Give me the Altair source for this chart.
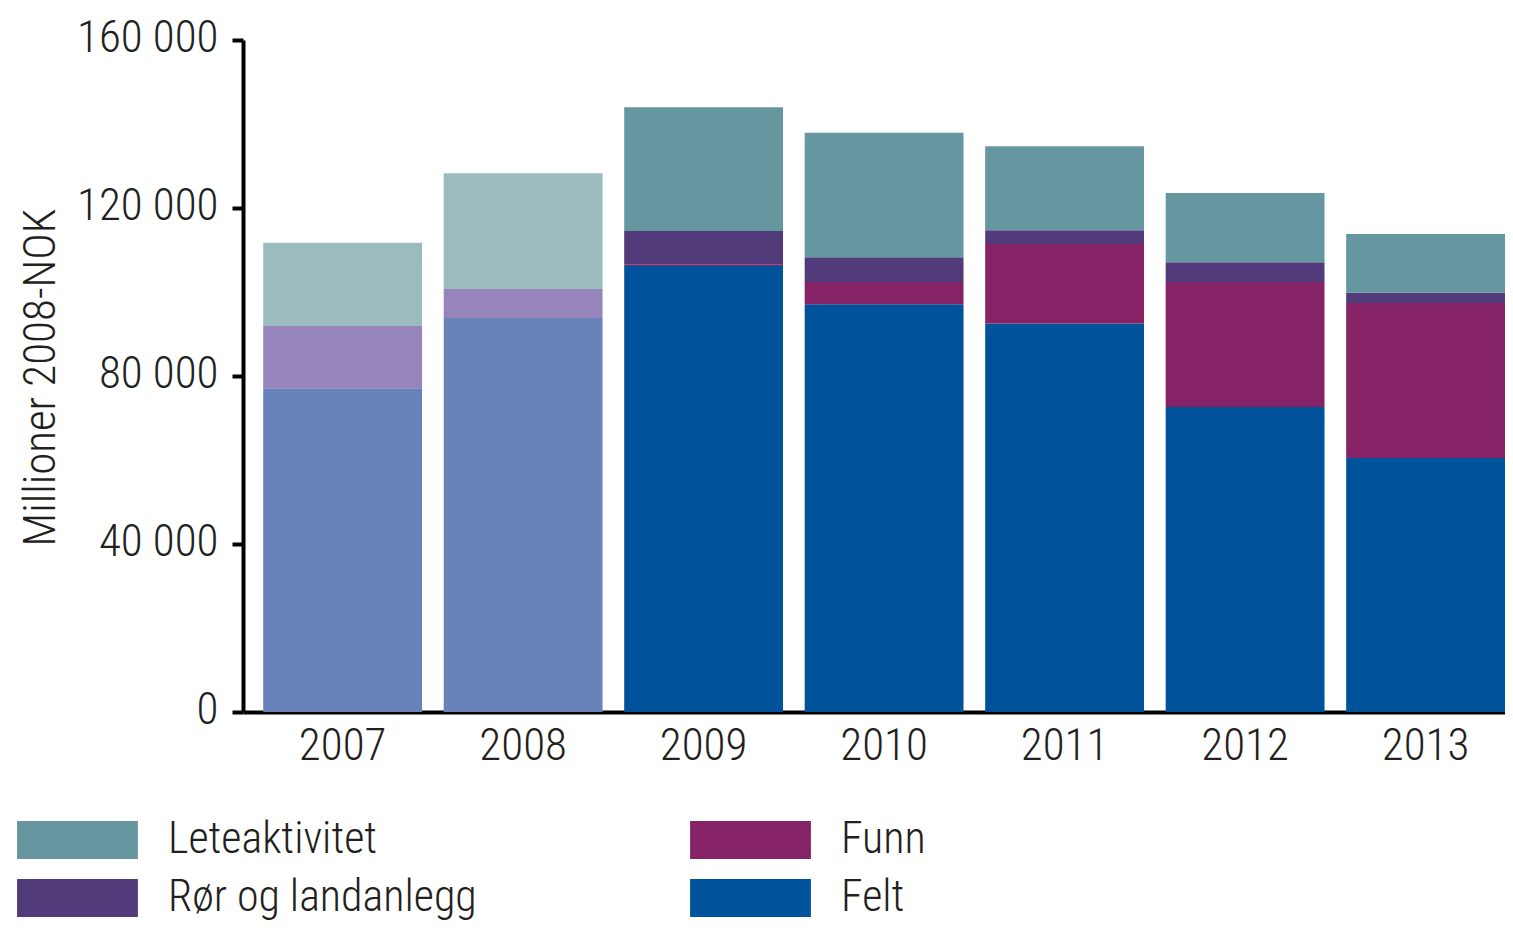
import altair as alt
import pandas as pd

FONT = "Roboto Condensed"
FW = 300
FS = 45
TXT = "#231f20"

years = ["2007", "2008", "2009", "2010", "2011", "2012", "2013"]
felt = [77100, 93800, 106200, 97100, 92500, 72600, 60500]
funn = [0, 0, 300, 5300, 18900, 29800, 36900]
ror = [14800, 6900, 8000, 5900, 3300, 4700, 2400]
lete = [19800, 27600, 29500, 29600, 20000, 16500, 14000]

series_names = ["Felt", "Funn", "Rør og landanlegg", "Leteaktivitet"]
light_years = ["2007", "2008"]

legend_keys = ["Leteaktivitet", "Rør og landanlegg", "Funn", "Felt"]
legend_colors = ["#6696a0", "#513b7a", "#862366", "#00529a"]
light_keys = ["Leteaktivitet (lys)", "Rør og landanlegg (lys)", "Funn (lys)", "Felt (lys)"]
light_colors = ["#9bbbbe", "#9585ba", "#c48aa8", "#6883ba"]

rows = []
for i, y in enumerate(years):
    for rank, (name, vals) in enumerate(zip(series_names, [felt, funn, ror, lete])):
        key = name + " (lys)" if y in light_years else name
        rows.append({"year": y, "series": name, "key": key, "value": vals[i], "rank": rank})
df = pd.DataFrame(rows)

legend = alt.Legend(
    title=None,
    orient="none",
    legendX=-187.5,
    legendY=778,
    columns=2,
    columnPadding=212,
    rowPadding=14,
    padding=0,
    symbolType="M-3.18,-1L3.18,-1L3.18,1L-3.18,1Z",
    symbolSize=1444,
    symbolStrokeWidth=0,
    symbolOpacity=1,
    labelFont=FONT,
    labelFontWeight=FW,
    labelFontSize=44,
    labelColor=TXT,
    labelOffset=68.5,
    labelLimit=2000,
    values=legend_keys,
)

chart = (
    alt.Chart(df)
    .mark_bar(strokeWidth=0)
    .encode(
        x=alt.X(
            "year:O",
            sort=years,
            scale=alt.Scale(paddingInner=0.12, paddingOuter=0.056, align=1.0),
            axis=alt.Axis(
                title=None,
                labelAngle=0,
                ticks=False,
                grid=False,
                domainWidth=4,
                domainColor="black",
                labelFont=FONT,
                labelFontWeight=FW,
                labelFontSize=FS,
                labelColor=TXT,
                labelPadding=11,
            ),
        ),
        y=alt.Y(
            "value:Q",
            stack="zero",
            scale=alt.Scale(domain=[0, 160000], nice=False),
            axis=alt.Axis(
                title="Millioner 2008-NOK",
                values=[0, 40000, 80000, 120000, 160000],
                labelExpr="replace(format(datum.value, ','), ',', ' ')",
                grid=False,
                domainWidth=4,
                domainColor="black",
                tickWidth=4,
                tickSize=11,
                tickColor="black",
                labelFont=FONT,
                labelFontWeight=FW,
                labelFontSize=FS,
                labelColor=TXT,
                labelPadding=14,
                labelOffset=-3,
                titleFont=FONT,
                titleFontSize=FS,
                titleFontWeight=FW,
                titleColor=TXT,
                titleAngle=270,
                titleAlign="center",
                titleBaseline="middle",
                titleX=-203,
                titleY=337,
            ),
        ),
        color=alt.Color(
            "key:N",
            scale=alt.Scale(domain=legend_keys + light_keys, range=legend_colors + light_colors),
            legend=legend,
        ),
        order=alt.Order("rank:Q", sort="ascending"),
    )
    .properties(
        width=1262,
        height=672,
        background="white",
        autosize=alt.AutoSizeParams(type="none"),
        padding={"left": 235, "top": 32, "right": 0, "bottom": 214},
    )
    .configure_view(stroke="transparent", strokeWidth=0)
)

chart.save("out.html", embed_options={"renderer": "svg", "actions": False})
